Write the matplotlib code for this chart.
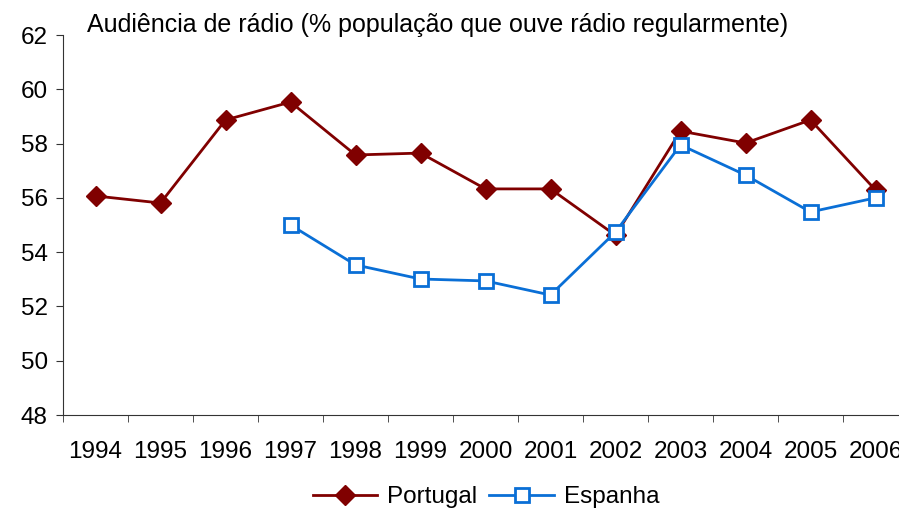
import numpy as np
import matplotlib.pyplot as plt

plt.rcParams['font.family'] = ['Liberation Sans', 'DejaVu Sans']

# dados
anos = ['1994', '1995', '1996', '1997', '1998', '1999', '2000',
        '2001', '2002', '2003', '2004', '2005', '2006']
portugal = [56.07, 55.81, 58.87, 59.53, 57.58, 57.65, 56.33,
            56.33, 54.62, 58.46, 58.02, 58.87, 56.29]
espanha = [np.nan, np.nan, np.nan, 55.0, 53.53, 53.01, 52.94,
           52.42, 54.74, 57.95, 56.84, 55.48, 56.0]

fs = 17.5
x = np.arange(len(anos))

fig = plt.figure(figsize=(8.99, 5.11), dpi=100)
# o eixo continua para lá da margem direita, como no original
ax = fig.add_axes([63/899, 96/511, 845/899, 380/511])

ax.plot(x, portugal, color='#800000', lw=2, marker='D', ms=10,
        mfc='#800000', mec='#800000', label='Portugal', zorder=3)
ax.plot(x, espanha, color='#0A6FD6', lw=2, marker='s', ms=10,
        mfc='white', mec='#0A6FD6', mew=2, label='Espanha', zorder=4)

ax.set_xlim(-0.5, 12.5)
ax.set_ylim(48, 62)
ax.set_yticks(np.arange(48, 63, 2))

ax.set_xticks(x)
ax.set_xticklabels(anos)
ax.set_xticks(np.arange(-0.5, 13, 1), minor=True)
ax.tick_params(axis='x', which='major', length=0, pad=19, labelsize=fs)
ax.tick_params(axis='x', which='minor', length=5, direction='out', color='#333333')
ax.tick_params(axis='y', length=5, direction='out', labelsize=fs, color='#333333', pad=6)

for s in ['top', 'right']:
    ax.spines[s].set_visible(False)
for s in ['left', 'bottom']:
    ax.spines[s].set_color('#333333')

ax.text(87/899, 1 - 25/511, 'Audiência de rádio (% população que ouve rádio regularmente)',
        transform=fig.transFigure, fontsize=18, va='center', ha='left')

fig.legend(loc='center', bbox_to_anchor=(486/899, 1 - 497/511), ncol=2,
           frameon=False, fontsize=fs, handlelength=2.65, columnspacing=0.5,
           handletextpad=0.4, borderpad=0)

fig.savefig('out.png', dpi=100)
